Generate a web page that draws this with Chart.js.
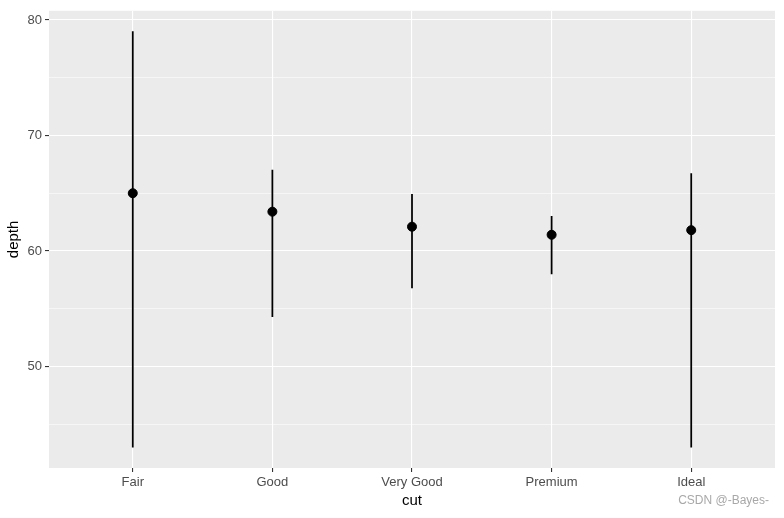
<!DOCTYPE html>
<html>
<head>
<meta charset="utf-8">
<script src="https://cdn.jsdelivr.net/npm/chart.js@4"></script>
<style>
  body { margin: 0; background: #ffffff; }
</style>
</head>
<body>
<canvas id="chart" width="784" height="518"></canvas>
<script>
// Datos (diamonds: depth por cut)
const categories = ["Fair", "Good", "Very Good", "Premium", "Ideal"];
const depthMedian = [65.0, 63.4, 62.1, 61.4, 61.8];
const depthLow = [43.0, 54.3, 56.8, 58.0, 43.0];
const depthHigh = [79.0, 67.0, 64.9, 63.0, 66.7];
const yTicks = [45, 50, 55, 60, 65, 70, 75, 80];

// Fondo gris del panel, estilo ggplot
const panelBackground = {
    id: 'panelBackground',
    beforeDraw(chart) {
        const { ctx, chartArea } = chart;
        ctx.save();
        ctx.fillStyle = '#EBEBEB';
        ctx.fillRect(chartArea.left, chartArea.top, chartArea.right - chartArea.left, chartArea.bottom - chartArea.top);
        ctx.restore();
    }
};

// Marca de agua
const watermark = {
    id: 'watermark',
    afterDraw(chart) {
        const ctx = chart.ctx;
        ctx.save();
        ctx.font = '12px "Liberation Sans", Arial, sans-serif';
        ctx.fillStyle = '#A8A8A8';
        ctx.textAlign = 'right';
        ctx.textBaseline = 'middle';
        ctx.fillText('CSDN @-Bayes-', 769, 501);
        ctx.restore();
    }
};

const isMajor = v => v % 10 === 0;

new Chart(document.getElementById('chart'), {
    type: 'bar',
    data: {
        datasets: [
            {
                type: 'scatter',
                data: depthMedian.map((v, i) => ({ x: i, y: v })),
                backgroundColor: '#000000',
                borderColor: '#000000',
                pointRadius: 4.5,
                pointHoverRadius: 4.5,
                order: 0
            },
            {
                type: 'bar',
                data: depthLow.map((v, i) => ({ x: i, y: [v, depthHigh[i]] })),
                backgroundColor: '#000000',
                borderWidth: 0,
                barThickness: 1.1,
                grouped: false,
                order: 1
            }
        ]
    },
    options: {
        responsive: false,
        animation: false,
        layout: { padding: { top: 8, right: 9, bottom: 0, left: 0 } },
        plugins: {
            legend: { display: false },
            tooltip: { enabled: false }
        },
        scales: {
            x: {
                type: 'linear',
                min: -0.6,
                max: 4.6,
                offset: false,
                afterBuildTicks: scale => { scale.ticks = categories.map((c, i) => ({ value: i })); },
                afterFit: scale => { scale.height = 50; },
                border: { display: false },
                grid: {
                    offset: false,
                    color: '#FFFFFF',
                    lineWidth: 1.1,
                    tickColor: '#333333',
                    tickLength: 4
                },
                ticks: {
                    padding: 3,
                    color: '#4D4D4D',
                    font: { family: '"Liberation Sans", Arial, sans-serif', size: 13 },
                    callback: v => categories[v]
                },
                title: {
                    display: true,
                    text: 'cut',
                    color: '#000000',
                    font: { family: '"Liberation Sans", Arial, sans-serif', size: 15 },
                    padding: { top: 8, bottom: 8 }
                }
            },
            y: {
                type: 'linear',
                min: 41.2,
                max: 80.8,
                afterBuildTicks: scale => { scale.ticks = yTicks.map(v => ({ value: v })); },
                afterFit: scale => { scale.width = 49; },
                border: { display: false },
                grid: {
                    color: '#FFFFFF',
                    lineWidth: ctx => isMajor(ctx.tick.value) ? 1.1 : 0.55,
                    tickColor: ctx => isMajor(ctx.tick.value) ? '#333333' : 'rgba(0,0,0,0)',
                    tickLength: 4
                },
                ticks: {
                    padding: 3,
                    color: '#4D4D4D',
                    font: { family: '"Liberation Sans", Arial, sans-serif', size: 13 },
                    callback: v => isMajor(v) ? String(v) : ''
                },
                title: {
                    display: true,
                    text: 'depth',
                    color: '#000000',
                    font: { family: '"Liberation Sans", Arial, sans-serif', size: 15 },
                    padding: { top: 5, bottom: 5 }
                }
            }
        }
    },
    plugins: [panelBackground, watermark]
});
</script>
</body>
</html>
